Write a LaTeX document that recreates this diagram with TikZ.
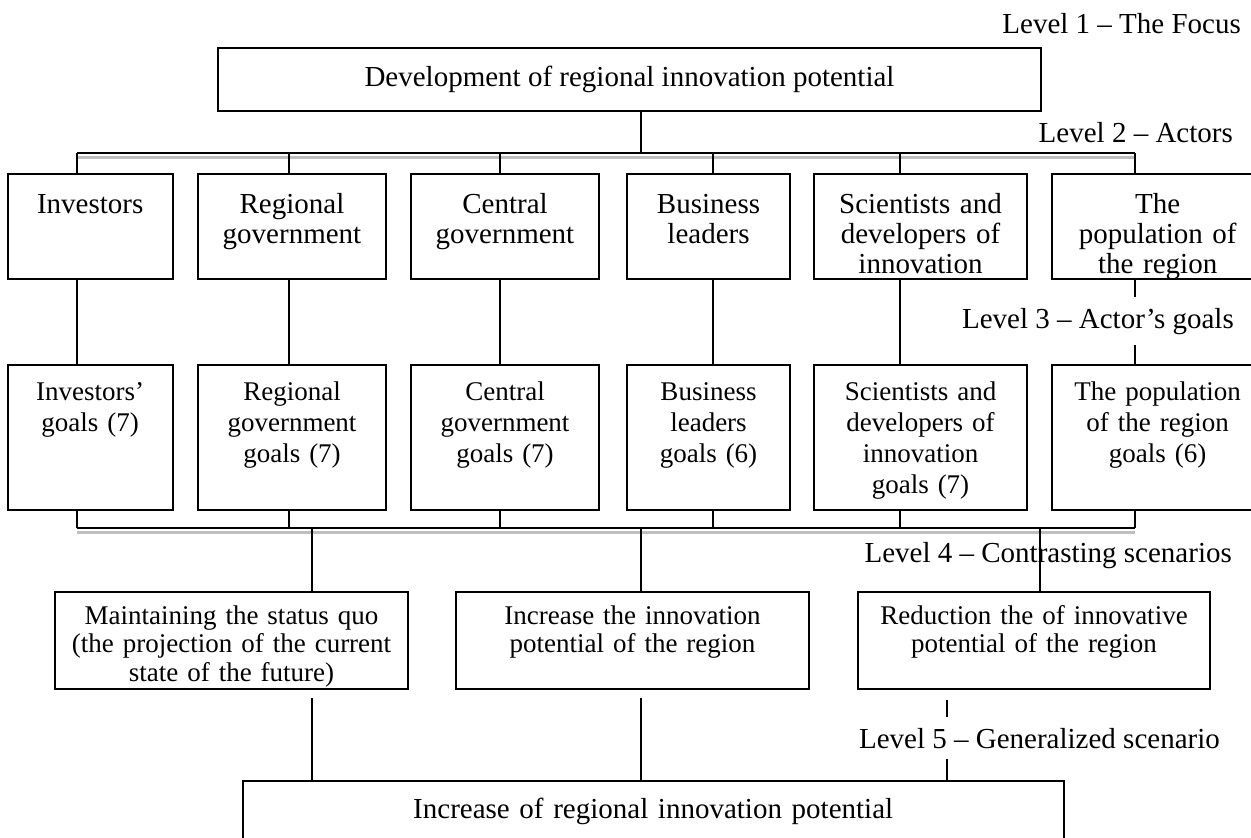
\documentclass[tikz,border=0pt]{standalone}
\usepackage{fontspec}
\setmainfont{Liberation Serif}
\usepackage{tikz}
\usetikzlibrary{positioning}
\tikzstyle{focus} = [rectangle, draw=black, line width=2pt, minimum width=823pt, minimum height=63pt, inner sep=0pt, text centered, font=\fontsize{29}{30}\selectfont]
\tikzstyle{actor} = [rectangle, draw=black, line width=2pt, inner sep=0pt, align=center, text height=39pt, text depth=66pt, font=\fontsize{29}{30}\selectfont]
\tikzstyle{goal} = [rectangle, draw=black, line width=2pt, inner sep=0pt, align=center, text height=35pt, text depth=110pt, font=\fontsize{27}{31}\selectfont]
\tikzstyle{scenario} = [rectangle, draw=black, line width=2pt, inner sep=0pt, align=center, text height=32pt, text depth=65pt, font=\fontsize{27}{28.5}\selectfont]
\tikzstyle{result} = [rectangle, draw=black, line width=2pt, inner sep=0pt, align=center, text height=37pt, text depth=45pt, font=\fontsize{29}{30}\selectfont]
\tikzstyle{level} = [inner xsep=0pt, inner ysep=11pt, anchor=base east, font=\fontsize{29}{30}\selectfont]
\tikzstyle{link} = [line width=2.2pt]
\tikzstyle{shadow} = [line width=2.5pt, black!25]

\begin{document}
\begin{tikzpicture}[x=1pt, y=-1pt]

	\useasboundingbox (0,0) rectangle (1251,838);

	\node (focus) [focus] at (629.5,79.5) {Development of regional innovation potential};

	\node (inv) [actor, text width=165pt, anchor=north west] at (6.7,173) {Investors};
	\node (reg) [actor, text width=188pt, right=23.3pt of inv] {Regional\\government};
	\node (cen) [actor, text width=188pt, right=23pt of reg] {Central\\government};
	\node (bus) [actor, text width=163pt, right=26pt of cen] {Business\\leaders};
	\node (sci) [actor, text width=213pt, right=22pt of bus] {Scientists and\\developers of\\innovation};
	\node (pop) [actor, text width=212pt, right=22.7pt of sci] {The\\population of\\the region};

	\node (invGoal) [goal, text width=165pt, below=84pt of inv] {Investors’\\goals (7)};
	\node (regGoal) [goal, text width=188pt, below=84pt of reg] {Regional\\government\\goals (7)};
	\node (cenGoal) [goal, text width=188pt, below=84pt of cen] {Central\\government\\goals (7)};
	\node (busGoal) [goal, text width=163pt, below=84pt of bus] {Business\\leaders\\goals (6)};
	\node (sciGoal) [goal, text width=213pt, below=84pt of sci] {Scientists and\\developers of\\innovation\\goals (7)};
	\node (popGoal) [goal, text width=212pt, below=84pt of pop] {The population\\of the region\\goals (6)};

	\node (statusQuo) [scenario, text width=353pt, anchor=north west] at (54,591) {Maintaining the status quo\\(the projection of the current\\state of the future)};
	\node (increase) [scenario, text width=353pt, right=46pt of statusQuo] {Increase the innovation\\potential of the region};
	\node (reduction) [scenario, text width=352pt, right=47pt of increase] {Reduction the of innovative\\potential of the region};

	\node (general) [result, text width=821pt, anchor=north west] at (241.7,780) {Increase of regional innovation potential};

	\node (level1) [level] at (1241,33) {Level 1 -- The Focus};
	\node (level2) [level] at (1233,142) {Level 2 -- Actors};
	\node (level3) [level] at (1234,328) {Level 3 -- Actor’s goals};
	\node (level4) [level] at (1232,562) {Level 4 -- Contrasting scenarios};
	\node (level5) [level] at (1220,748) {Level 5 -- Generalized scenario};

	\coordinate (c1) at (77.3,0);
	\coordinate (c2) at (289,0);
	\coordinate (c3) at (500,0);
	\coordinate (c4) at (712.6,0);
	\coordinate (c5) at (900,0);
	\coordinate (c6) at (1134.7,0);
	\coordinate (c7) at (312,0);
	\coordinate (c8) at (641,0);
	\coordinate (c9) at (946.7,0);
	\coordinate (c10) at (1040,0);
	\coordinate (topBus) at (0,152.7);
	\coordinate (topShadow) at (0,157.5);
	\coordinate (lowBus) at (0,527.7);
	\coordinate (lowShadow) at (0,532.5);

	\draw [shadow] (c1 |- topShadow) -- (c6 |- topShadow);
	\draw [shadow] (c1 |- lowShadow) -- (c6 |- lowShadow);

	\draw [link] (focus.south -| c8) -- (c8 |- topBus);
	\draw [link] (c1 |- topBus) -- (c6 |- topBus);
	\draw [link] (c1 |- topBus) -- (inv.north -| c1);
	\draw [link] (c2 |- topBus) -- (reg.north -| c2);
	\draw [link] (c3 |- topBus) -- (cen.north -| c3);
	\draw [link] (c4 |- topBus) -- (bus.north -| c4);
	\draw [link] (c5 |- topBus) -- (sci.north -| c5);
	\draw [link] (c6 |- topBus) -- (pop.north -| c6);

	\draw [link] (inv.south -| c1) -- (invGoal.north -| c1);
	\draw [link] (reg.south -| c2) -- (regGoal.north -| c2);
	\draw [link] (cen.south -| c3) -- (cenGoal.north -| c3);
	\draw [link] (bus.south -| c4) -- (busGoal.north -| c4);
	\draw [link] (sci.south -| c5) -- (sciGoal.north -| c5);
	\draw [link] (pop.south -| c6) -- (level3.north -| c6);
	\draw [link] (level3.south -| c6) -- (popGoal.north -| c6);

	\draw [link] (c1 |- lowBus) -- (c6 |- lowBus);
	\draw [link] (invGoal.south -| c1) -- (c1 |- lowBus);
	\draw [link] (regGoal.south -| c2) -- (c2 |- lowBus);
	\draw [link] (cenGoal.south -| c3) -- (c3 |- lowBus);
	\draw [link] (busGoal.south -| c4) -- (c4 |- lowBus);
	\draw [link] (sciGoal.south -| c5) -- (c5 |- lowBus);
	\draw [link] (popGoal.south -| c6) -- (c6 |- lowBus);

	\draw [link] (c7 |- lowBus) -- (statusQuo.north -| c7);
	\draw [link] (c8 |- lowBus) -- (increase.north -| c8);
	\draw [link] (c10 |- lowBus) -- (reduction.north -| c10);

	\draw [link, shorten <=8pt] (statusQuo.south -| c7) -- (general.north -| c7);
	\draw [link, shorten <=8pt] (increase.south -| c8) -- (general.north -| c8);
	\draw [link, shorten <=10pt] (reduction.south -| c9) -- (level5.north -| c9);
	\draw [link] (level5.south -| c9) -- (general.north -| c9);

\end{tikzpicture}
\end{document}
